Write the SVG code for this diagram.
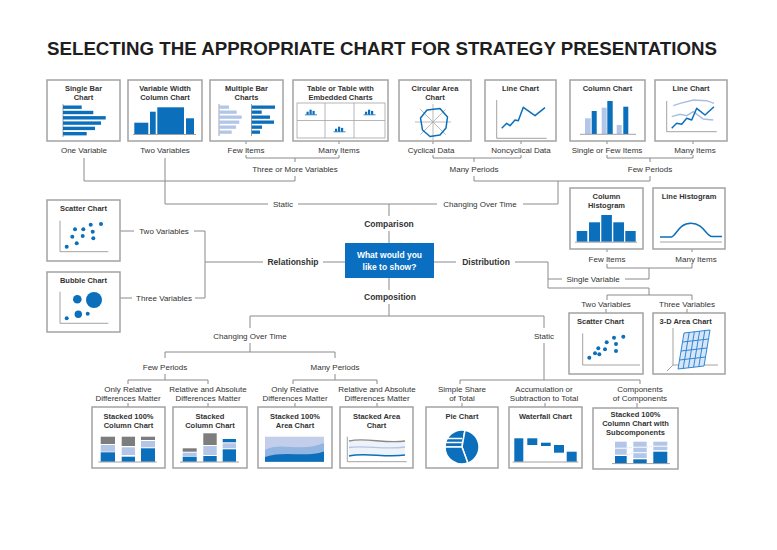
<svg xmlns="http://www.w3.org/2000/svg" width="777" height="550" viewBox="0 0 777 550">
<defs>
<style>
text{font-family:"Liberation Sans",Arial,sans-serif;fill:#333;text-anchor:middle}
.l{font-size:8px}
.bt{font-size:7.5px;font-weight:bold}
.m{font-size:8.5px;font-weight:bold}
.box{fill:#fff;stroke:#a3a3a3;stroke-width:1.5}
.ln{fill:none;stroke:#8a8a8a;stroke-width:1}
.ax{fill:none;stroke:#8a8a8a;stroke-width:0.8}
.b{fill:#0b6fbb}
.lb{fill:#b3c6e7}
.g{fill:#7d7d7d}
.bl{fill:none;stroke:#0b6fbb;stroke-width:1.5;stroke-linejoin:round}
.d{fill:#0b6fbb}
</style>
<g id="mini">
<path d="M-6,2.3 H6" stroke="#0b6fbb" stroke-width="0.8"/>
<rect class="b" x="-4.5" y="-0.8" width="2.2" height="3"/>
<rect class="b" x="-1.5" y="-2.8" width="2.2" height="5"/>
<rect class="b" x="1.5" y="-1.6" width="2.2" height="3.8"/>
</g>
</defs>
<rect width="777" height="550" fill="#fff"/>
<text x="47" y="55" style="font-size:18px;font-weight:bold;fill:#1e1e1e;text-anchor:start" textLength="670" lengthAdjust="spacingAndGlyphs">SELECTING THE APPROPRIATE CHART FOR STRATEGY PRESENTATIONS</text>

<g id="connectors">
<path class="ln" d="M84,158 V181 H295 V176"/>
<path class="ln" d="M165,158 V204 H268"/>
<path class="ln" d="M246,155 V158 H339 V155 M295,158 V162"/>
<path class="ln" d="M246,141 V144 M339,141 V144 M433,141 V144 M521,141 V144 M607,141 V144 M693,141 V144"/>
<path class="ln" d="M433,155 V158 H521 V155 M474,158 V162"/>
<path class="ln" d="M607,155 V158 H693 V155 M650,158 V162"/>
<path class="ln" d="M474,176 V181 H650 V176 M558,181 V204 H523"/>
<path class="ln" d="M298,204 H437"/>
<path class="ln" d="M389,204 V216 M389,231 V243"/>
<path class="ln" d="M120,231 H134 M194,231 H205 V298 H195 M120,298 H132 M205,262 H263"/>
<path class="ln" d="M323,262 H345 M434,262 H456"/>
<path class="ln" d="M515,262 H548 V288 H649 V295 M548,279 H562 M625,279 H649 V268 M607,264 V268 H692 V264 M607,249 V252 M692,249 V252"/>
<path class="ln" d="M607,300 V295 H692 V300 M606,309 V313 M687,309 V313"/>
<path class="ln" d="M389,278 V290 M389,304 V316 M250,316 H544 M250,316 V328 M544,316 V328"/>
<path class="ln" d="M250,343 V352 M165,358 V352 H335 V358"/>
<path class="ln" d="M165,374 V380 M128,384 V380 H208 V384 M335,374 V380 M293,384 V380 H377 V384"/>
<path class="ln" d="M544,343 V380 M460,384 V380 H640 V384"/>
<path class="ln" d="M128,403 V407 M208,403 V407 M295,403 V407 M377,403 V407 M462,403 V407 M545,403 V407 M637,403 V408"/>
</g>

<g id="labels">
<text class="l" x="84" y="153">One Variable</text>
<text class="l" x="165" y="153">Two Variables</text>
<text class="l" x="246" y="153">Few Items</text>
<text class="l" x="339" y="153">Many Items</text>
<text class="l" x="295" y="172">Three or More Variables</text>
<text class="l" x="431" y="153">Cyclical Data</text>
<text class="l" x="521" y="153">Noncyclical Data</text>
<text class="l" x="474" y="172">Many Periods</text>
<text class="l" x="607" y="153">Single or Few Items</text>
<text class="l" x="695" y="153">Many Items</text>
<text class="l" x="650" y="172">Few Periods</text>
<text class="l" x="283" y="207">Static</text>
<text class="l" x="480" y="207">Changing Over Time</text>
<text class="m" x="389" y="227">Comparison</text>
<text class="m" x="293" y="265">Relationship</text>
<text class="m" x="486" y="265">Distribution</text>
<text class="m" x="390" y="300">Composition</text>
<text class="l" x="164" y="234">Two Variables</text>
<text class="l" x="164" y="301">Three Variables</text>
<text class="l" x="607" y="262">Few Items</text>
<text class="l" x="696" y="262">Many Items</text>
<text class="l" x="593" y="282">Single Variable</text>
<text class="l" x="606" y="307">Two Variables</text>
<text class="l" x="687" y="307">Three Variables</text>
<text class="l" x="250" y="339">Changing Over Time</text>
<text class="l" x="544" y="339">Static</text>
<text class="l" x="165" y="370">Few Periods</text>
<text class="l" x="335" y="370">Many Periods</text>
<text class="l" x="128" y="392">Only Relative</text>
<text class="l" x="128" y="401">Differences Matter</text>
<text class="l" x="208" y="392">Relative and Absolute</text>
<text class="l" x="208" y="401">Differences Matter</text>
<text class="l" x="295" y="392">Only Relative</text>
<text class="l" x="295" y="401">Differences Matter</text>
<text class="l" x="377" y="392">Relative and Absolute</text>
<text class="l" x="377" y="401">Differences Matter</text>
<text class="l" x="462" y="392">Simple Share</text>
<text class="l" x="462" y="401">of Total</text>
<text class="l" x="544" y="392">Accumulation or</text>
<text class="l" x="544" y="401">Subtraction to Total</text>
<text class="l" x="640" y="392">Components</text>
<text class="l" x="640" y="401">of Components</text>
</g>

<g id="n-question">
<rect x="345" y="243" width="89" height="35" fill="#0a6fc0"/>
<text class="m" x="389.5" y="258" style="fill:#fff">What would you</text>
<text class="m" x="389.5" y="270" style="fill:#fff">like to show?</text>
</g>

<g id="n-single-bar">
<rect class="box" x="47" y="80" width="73" height="61"/>
<text class="bt" x="83.5" y="91">Single Bar</text>
<text class="bt" x="83.5" y="100">Chart</text>
<path class="ax" d="M63,104 V137"/>
<rect class="b" x="63" y="105.5" width="18.7" height="3.4"/>
<rect class="b" x="63" y="110.8" width="30.3" height="3.4"/>
<rect class="b" x="63" y="116.1" width="42.7" height="3.4"/>
<rect class="b" x="63" y="121.4" width="38" height="3.4"/>
<rect class="b" x="63" y="126.7" width="32" height="3.4"/>
<rect class="b" x="63" y="132" width="23.7" height="3.4"/>
</g>

<g id="n-variable-width">
<rect class="box" x="128" y="80" width="74" height="61"/>
<text class="bt" x="165" y="91">Variable Width</text>
<text class="bt" x="165" y="100">Column Chart</text>
<rect class="b" x="134.3" y="122.7" width="14" height="11.3"/>
<rect class="b" x="150" y="111.7" width="5.7" height="22.3"/>
<rect class="b" x="157.3" y="107.3" width="26.7" height="26.7"/>
<rect class="b" x="186" y="118.3" width="8" height="15.7"/>
<path class="ax" d="M133,134.5 H196"/>
</g>

<g id="n-multiple-bar">
<rect class="box" x="210" y="80" width="73" height="61"/>
<text class="bt" x="246.5" y="91">Multiple Bar</text>
<text class="bt" x="246.5" y="100">Charts</text>
<path class="ax" d="M219,104 V136 M251.5,104 V136"/>
<rect class="lb" x="219" y="105.5" width="10" height="3.3"/>
<rect class="lb" x="219" y="110.5" width="17.7" height="3.3"/>
<rect class="lb" x="219" y="115.5" width="22.7" height="3.3"/>
<rect class="lb" x="219" y="120.5" width="20.3" height="3.3"/>
<rect class="lb" x="219" y="125.5" width="17" height="3.3"/>
<rect class="lb" x="219" y="130.5" width="12.7" height="3.3"/>
<rect class="b" x="251.7" y="105.5" width="23.3" height="3.3"/>
<rect class="b" x="251.7" y="110.5" width="10" height="3.3"/>
<rect class="b" x="251.7" y="115.5" width="18.3" height="3.3"/>
<rect class="b" x="251.7" y="120.5" width="22.3" height="3.3"/>
<rect class="b" x="251.7" y="125.5" width="10.3" height="3.3"/>
<rect class="b" x="251.7" y="130.5" width="8.3" height="3.3"/>
</g>

<g id="n-table">
<rect class="box" x="293" y="80" width="95" height="61"/>
<text class="bt" x="340.5" y="91">Table or Table with</text>
<text class="bt" x="340.5" y="100">Embedded Charts</text>
<rect x="297" y="103" width="88" height="35" fill="none" stroke="#a3a3a3" stroke-width="0.8"/>
<path d="M325,103 V138 M354,103 V138 M297,120.5 H385" stroke="#a3a3a3" stroke-width="0.8"/>
<use href="#mini" x="311" y="112.5"/>
<use href="#mini" x="369.5" y="112.5"/>
<use href="#mini" x="339.5" y="129.5"/>
</g>

<g id="n-circular-area">
<rect class="box" x="399" y="80" width="72" height="61"/>
<text class="bt" x="435" y="91">Circular Area</text>
<text class="bt" x="435" y="100">Chart</text>
<path d="M415,122 H451 M433,104 V140 M420.3,109.3 L445.7,134.7 M445.7,109.3 L420.3,134.7" stroke="#a8a8a8" stroke-width="0.8"/>
<polygon class="bl" points="427,110 440,108.5 447.5,117 446,128 440,135 430,136.5 422.5,130 420.5,118"/>
</g>

<g id="n-line-chart-1">
<rect class="box" x="485" y="80" width="71" height="61"/>
<text class="bt" x="520.5" y="91">Line Chart</text>
<path class="ax" d="M496.7,100 V138.3 H546.7"/>
<polyline class="bl" points="501.7,128.3 506.7,123.3 510,125.7 515,120 518.3,120.7 523.3,107.3 535,115.7 545,107.7"/>
</g>

<g id="n-column-chart">
<rect class="box" x="570" y="80" width="75" height="61"/>
<text class="bt" x="607.5" y="91">Column Chart</text>
<rect class="lb" x="585" y="118.3" width="5.7" height="15.7"/>
<rect class="b" x="591.7" y="111" width="5" height="23"/>
<rect class="lb" x="601.7" y="107.7" width="5" height="26.3"/>
<rect class="b" x="607.3" y="101" width="5.4" height="33"/>
<rect class="lb" x="616.7" y="125" width="5" height="9"/>
<rect class="b" x="623.3" y="106.7" width="5" height="27.3"/>
<path class="ax" d="M580,134.3 H636"/>
</g>

<g id="n-line-chart-2">
<rect class="box" x="655" y="80" width="72" height="61"/>
<text class="bt" x="691" y="91">Line Chart</text>
<path class="ax" d="M666.7,101 V131.7 H716.7"/>
<polyline fill="none" stroke="#a9bde4" stroke-width="1.4" points="673.3,105.7 680,103.3 693.3,100 706.7,100.7 714,103.3"/>
<polyline fill="none" stroke="#a9bde4" stroke-width="1.4" points="671.7,116.7 680,114.3 686.7,115.7 693.3,111.7 703.3,119 713.3,120"/>
<polyline class="bl" points="671.7,128.3 676.7,123.3 681.7,124.3 686.7,118.3 691.7,120 696.7,108.3 705,115 714,106.7"/>
</g>

<g id="n-scatter-left">
<rect class="box" x="47" y="200" width="73" height="61"/>
<text class="bt" x="83.5" y="211">Scatter Chart</text>
<path class="ax" d="M60,220.7 V251.7 H108.3"/>
<g class="d">
<circle cx="66.7" cy="246.7" r="2"/><circle cx="76.7" cy="243.3" r="2"/><circle cx="72.3" cy="236.7" r="2"/>
<circle cx="82.7" cy="236" r="2"/><circle cx="93.3" cy="238.3" r="2"/><circle cx="75" cy="229.3" r="2"/>
<circle cx="83.3" cy="229.3" r="2"/><circle cx="92.7" cy="231.7" r="2"/><circle cx="90.7" cy="224.7" r="2"/>
<circle cx="101" cy="224" r="2"/>
</g>
</g>

<g id="n-bubble">
<rect class="box" x="47" y="272" width="73" height="60"/>
<text class="bt" x="83.5" y="283">Bubble Chart</text>
<path class="ax" d="M60,291.7 V323.3 H108.3"/>
<g class="d">
<circle cx="77.3" cy="299.3" r="4.3"/><circle cx="94" cy="300" r="8"/><circle cx="78.3" cy="314.3" r="3.7"/>
<circle cx="87.7" cy="313.7" r="2"/><circle cx="66.7" cy="318.3" r="2"/>
</g>
</g>

<g id="n-column-histogram">
<rect class="box" x="570" y="188" width="73" height="61"/>
<text class="bt" x="606.5" y="199">Column</text>
<text class="bt" x="606.5" y="208">Histogram</text>
<rect class="b" x="576.7" y="231" width="10.6" height="10.7"/>
<rect class="b" x="589" y="222.3" width="11" height="19.4"/>
<rect class="b" x="601.3" y="215" width="10.6" height="26.7"/>
<rect class="b" x="613.3" y="222.3" width="10.7" height="19.4"/>
<rect class="b" x="625.3" y="231" width="10.4" height="10.7"/>
<path class="ax" d="M575,242.2 H637"/>
</g>

<g id="n-line-histogram">
<rect class="box" x="653" y="188" width="72" height="61"/>
<text class="bt" x="689" y="199">Line Histogram</text>
<path class="ax" d="M660,242 H722"/>
<path class="bl" d="M660,237 H671 C676,237 678,223.3 691,223.3 C704,223.3 706,236.5 712,236.5 H722"/>
</g>

<g id="n-scatter-right">
<rect class="box" x="569" y="313" width="74" height="61"/>
<text class="bt" x="577" y="324" style="text-anchor:start">Scatter Chart</text>
<path class="ax" d="M582.7,333.3 V365 H640"/>
<g class="d">
<circle cx="589.3" cy="357.7" r="2"/><circle cx="595" cy="353.3" r="2"/><circle cx="599.3" cy="354.3" r="2"/>
<circle cx="598.3" cy="348.3" r="2"/><circle cx="605" cy="349.3" r="2"/><circle cx="606.7" cy="342.3" r="2"/>
<circle cx="614" cy="337.7" r="2"/><circle cx="623.3" cy="336.7" r="2"/><circle cx="616" cy="344" r="2"/>
<circle cx="616" cy="351" r="2"/>
</g>
</g>

<g id="n-3d-area">
<rect class="box" x="653" y="313" width="72" height="61"/>
<text class="bt" x="659.5" y="324" style="text-anchor:start">3-D Area Chart</text>
<path class="ax" d="M673,328 V365 H718 M673,365 L667,371"/>
<polygon points="684,333 710,330 704,366 678,369" fill="#d6e5f7"/>
<path fill="none" stroke="#2f86d6" stroke-width="1" d="M684,333 L678,369 M689.2,332.4 L683.2,368.4 M694.4,331.8 L688.4,367.8 M699.6,331.2 L693.6,367.2 M704.8,330.6 L698.8,366.6 M710,330 L704,366 M684,333 L710,330 M682.5,342 L708.5,339 M681,351 L707,348 M679.5,360 L705.5,357 M678,369 L704,366"/>
</g>

<g id="n-stacked-100-column">
<rect class="box" x="92" y="407" width="73" height="61"/>
<text class="bt" x="128.5" y="419">Stacked 100%</text>
<text class="bt" x="128.5" y="428">Column Chart</text>
<rect class="g" x="100.7" y="436.7" width="14.3" height="7.3"/>
<rect class="lb" x="100.7" y="445" width="14.3" height="6.7"/>
<rect class="b" x="100.7" y="452.3" width="14.3" height="9.4"/>
<rect class="g" x="121.7" y="436.7" width="13.3" height="9.3"/>
<rect class="lb" x="121.7" y="447.3" width="13.3" height="7.7"/>
<rect class="b" x="121.7" y="456.7" width="13.3" height="5"/>
<rect class="g" x="141" y="436.7" width="14" height="3.3"/>
<rect class="lb" x="141" y="441" width="14" height="6.3"/>
<rect class="b" x="141" y="448.3" width="14" height="13.4"/>
<path class="ax" d="M98.3,462 H156.7"/>
</g>

<g id="n-stacked-column">
<rect class="box" x="173" y="407" width="74" height="61"/>
<text class="bt" x="210" y="419">Stacked</text>
<text class="bt" x="210" y="428">Column Chart</text>
<rect class="g" x="182.7" y="448.3" width="14" height="3.4"/>
<rect class="lb" x="182.7" y="452.7" width="14" height="3.3"/>
<rect class="b" x="182.7" y="456.7" width="14" height="5"/>
<rect class="g" x="203.3" y="433.3" width="13.4" height="11.7"/>
<rect class="lb" x="203.3" y="446" width="13.4" height="9"/>
<rect class="b" x="203.3" y="456" width="13.4" height="5.7"/>
<rect class="b" x="222.7" y="439" width="13.3" height="3.3"/>
<rect class="lb" x="222.7" y="443.3" width="13.3" height="5"/>
<rect class="b" x="222.7" y="449.3" width="13.3" height="12.4"/>
<path class="ax" d="M180,462 H239"/>
</g>

<g id="n-stacked-100-area">
<rect class="box" x="258" y="407" width="74" height="61"/>
<text class="bt" x="295" y="419">Stacked 100%</text>
<text class="bt" x="295" y="428">Area Chart</text>
<rect x="265" y="436.7" width="59" height="25" fill="#c3cfea"/>
<path d="M265,450 C280,441 300,453 324,443 V461.7 H265 Z" fill="#93b5e1"/>
<path d="M265,457 C285,450 305,458 324,451.5 V461.7 H265 Z" fill="#0b6fbb"/>
</g>

<g id="n-stacked-area">
<rect class="box" x="340" y="407" width="73" height="61"/>
<text class="bt" x="376.5" y="419">Stacked Area</text>
<text class="bt" x="376.5" y="428">Chart</text>
<path d="M349,441 C365,437 385,444 405,441 V455 C385,458 365,452 349,456 Z" fill="#eef2f9"/>
<path class="ax" d="M347.3,436.7 V461.7 H406.7"/>
<path d="M349,441 C365,437 385,444 405,441" fill="none" stroke="#8a8a8a" stroke-width="1.4"/>
<path d="M349,447.5 C365,445 385,450 405,447" fill="none" stroke="#b3c6e7" stroke-width="1.4"/>
<path class="bl" d="M349,456 C365,452 385,458 405,455"/>
</g>

<g id="n-pie">
<rect class="box" x="426" y="407" width="72" height="61"/>
<text class="bt" x="462" y="419">Pie Chart</text>
<g fill="#0b6fbb" stroke="#fff" stroke-width="1.5">
<path d="M462,447 L445,447 A17,17 0 0,1 464.95,430.26 Z"/>
<path d="M462,447 L464.95,430.26 A17,17 0 0,1 467.8,463 Z"/>
<path d="M462,447 L467.8,463 A17,17 0 0,1 445,447 Z"/>
</g>
<path d="M446,438.5 H462 M445.5,442.5 H462" stroke="#fff" stroke-width="1.4"/>
</g>

<g id="n-waterfall">
<rect class="box" x="509" y="407" width="73" height="61"/>
<text class="bt" x="545.5" y="419">Waterfall Chart</text>
<rect class="b" x="514.3" y="438.3" width="9" height="23.4"/>
<rect class="b" x="527.3" y="438.3" width="10" height="6.7"/>
<rect class="b" x="541" y="442.7" width="9.7" height="3.3"/>
<rect class="b" x="554" y="445" width="10" height="7.7"/>
<rect class="b" x="566.7" y="451.7" width="10" height="10"/>
<path class="ax" d="M512.7,462 H578.3"/>
</g>

<g id="n-stacked-subcomponents">
<rect class="box" x="593" y="408" width="85" height="61"/>
<text class="bt" x="635.5" y="417">Stacked 100%</text>
<text class="bt" x="635.5" y="426">Column Chart with</text>
<text class="bt" x="635.5" y="435">Subcomponents</text>
<rect class="lb" x="615" y="441.7" width="11.7" height="6"/>
<rect class="lb" x="615" y="448.7" width="11.7" height="6"/>
<rect class="b" x="615" y="456" width="11.7" height="7.3"/>
<rect class="lb" x="633.3" y="441.7" width="13.4" height="5"/>
<rect class="lb" x="633.3" y="447.7" width="13.4" height="4.5"/>
<rect class="lb" x="633.3" y="453.2" width="13.4" height="4.8"/>
<rect class="b" x="633.3" y="459.3" width="13.4" height="4"/>
<rect class="lb" x="653.3" y="441.7" width="14" height="4"/>
<rect class="lb" x="653.3" y="446.7" width="14" height="3.5"/>
<rect class="b" x="653.3" y="451.7" width="14" height="11.6"/>
<path d="M627,448 L633,447 M627,455 L633,453 M647,447 L653,446.5" stroke="#b3c6e7" stroke-width="0.6" stroke-dasharray="1,1"/>
<path class="ax" d="M612,463.6 H670"/>
</g>
</svg>
